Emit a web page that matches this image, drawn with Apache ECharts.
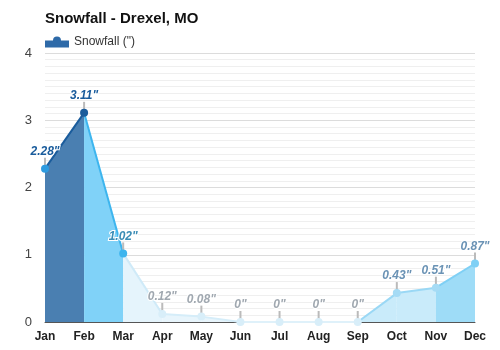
<!DOCTYPE html>
<html><head><meta charset="utf-8">
<script src="https://cdn.jsdelivr.net/npm/echarts@6/dist/echarts.min.js"></script>
<style>html,body{margin:0;padding:0;background:#fff}#c{width:500px;height:350px}</style>
</head><body><div id="c"></div>
<script>
var months = ['Jan','Feb','Mar','Apr','May','Jun','Jul','Aug','Sep','Oct','Nov','Dec'];
var snowfall = [2.28, 3.11, 1.02, 0.12, 0.08, 0, 0, 0, 0, 0.43, 0.51, 0.87];
var yTicks = [0, 1, 2, 3, 4];

var segLine = ['#1a5c9c','#3db5ee','#cfeaf8','#d5edf9','#d5edf9','#dff1fa','#dff1fa','#dff1fa','#9ad8f5','#9ad8f5','#7fd0f5'];
var segArea = ['#4a7fb1','#80d2f8','#e5f4fc','#e8f5fc','#e8f5fc','#eef8fd','#eef8fd','#eef8fd','#c9ebfa','#c9ebfa','#9edcf7'];
var pointColor = ['#2d9be0','#1a5c9c','#3db5ee','#d8eef9','#d8eef9','#d8eef9','#d8eef9','#d8eef9','#d8eef9','#a5dbf5','#a5dbf5','#7fd0f5'];
var labelColor = ['#1a5c9c','#1a5c9c','#3a8cb5','#a0a8b0','#a0a8b0','#a0a8b0','#a0a8b0','#a0a8b0','#a0a8b0','#6b93b5','#6b93b5','#6b93b5'];

var series = [];
for (var i = 0; i < snowfall.length - 1; i++) {
  var d = snowfall.map(function(){ return null; });
  d[i] = snowfall[i]; d[i+1] = snowfall[i+1];
  series.push({
    type: 'line', data: d, showSymbol: false, silent: true, z: 2,
    lineStyle: { color: segLine[i], width: 2 },
    areaStyle: { color: segArea[i], opacity: 1 },
    legendHoverLink: false
  });
}
series.push({
  type: 'custom', z: 3, silent: true,
  data: snowfall.map(function(v, i){ return [i, v]; }),
  renderItem: function(params, api) {
    var idx = params.dataIndex;
    var p = api.coord([api.value(0), api.value(1)]);
    return { type: 'group', children: [
      { type: 'line', shape: { x1: p[0], y1: p[1] - 2, x2: p[0], y2: p[1] - 11 },
        style: { stroke: '#bbbbbb', lineWidth: 2 } },
      { type: 'text', x: p[0], y: p[1] - 17,
        style: { text: snowfall[idx] + '"', align: 'center', verticalAlign: 'middle',
          font: 'italic bold 12px Arial, "Liberation Sans", sans-serif',
          fill: labelColor[idx], stroke: '#ffffff', lineWidth: 2 } }
    ]};
  }
});
series.push({
  name: 'Snowfall (")', type: 'line', z: 4,
  data: snowfall.map(function(v, i){ return { value: v, itemStyle: { color: pointColor[i] } }; }),
  symbol: 'circle', symbolSize: 8, showAllSymbol: true,
  lineStyle: { width: 0, opacity: 0 },
  itemStyle: { color: '#1a5c9c', borderWidth: 0 }
});

var chart = echarts.init(document.getElementById('c'));
chart.setOption({
  animation: false,
  title: { text: 'Snowfall - Drexel, MO', left: 40, top: 6,
    textStyle: { fontSize: 15, fontWeight: 'bold', color: '#111', fontFamily: 'Arial, "Liberation Sans", sans-serif' } },
  legend: { left: 40, top: 31, itemWidth: 24, itemHeight: 11, itemGap: 5,
    data: [{ name: 'Snowfall (")', icon: 'path://M0,4 L24,4 L24,11 L0,11 Z M12,0 A4,4 0 1 1 11.99,0 Z', itemStyle: { color: '#2e6aa8' } }],
    textStyle: { fontSize: 12, color: '#333', fontFamily: 'Arial, "Liberation Sans", sans-serif' } },
  grid: { left: 45, right: 25, top: 53, bottom: 28 },
  xAxis: { type: 'category', data: months, boundaryGap: false,
    axisTick: { show: false },
    axisLine: { lineStyle: { color: '#555', width: 1 } },
    axisLabel: { margin: 9, fontSize: 12, fontWeight: 'bold', color: '#222', fontFamily: 'Arial, "Liberation Sans", sans-serif' },
    splitLine: { show: false } },
  yAxis: { type: 'value', min: yTicks[0], max: yTicks[yTicks.length-1], interval: 1,
    axisLine: { show: false }, axisTick: { show: false },
    axisLabel: { margin: 13, fontSize: 13, color: '#444', fontFamily: 'Arial, "Liberation Sans", sans-serif' },
    splitLine: { lineStyle: { color: '#dcdcdc', width: 1 } },
    minorTick: { show: false, splitNumber: 10 },
    minorSplitLine: { show: true, lineStyle: { color: '#efefef', width: 1 } } },
  series: series
});
</script></body></html>
